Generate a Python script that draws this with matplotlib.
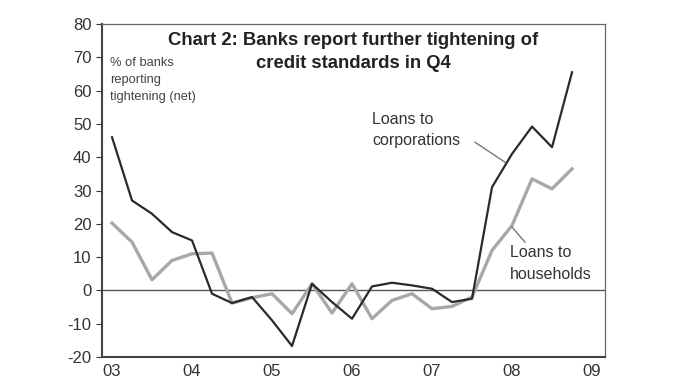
import matplotlib.pyplot as plt

# net % of banks reporting tightening, quarterly 2003Q1 - 2008Q4
quarters = list(range(24))
corporations = [46, 27, 23, 17.5, 15, -1, -3.8, -2, -9, -16.7, 2, -3.5,
                -8.5, 1.2, 2.3, 1.5, 0.5, -3.5, -2.5, 31, 41, 49.2, 43, 65.5]
households = [20.2, 14.5, 3.2, 9, 11, 11.2, -3.8, -2.2, -1, -7, 2, -6.8,
              2, -8.5, -3, -1, -5.5, -4.8, -2, 12, 19.5, 33.5, 30.5, 36.5]
year_ticks = [0, 4, 8, 12, 16, 20, 24]
year_labels = ['03', '04', '05', '06', '07', '08', '09']

plt.rcParams['font.family'] = ['Liberation Sans', 'DejaVu Sans']
plt.rcParams['axes.unicode_minus'] = False

fig = plt.figure(figsize=(6.73, 3.84), dpi=100)
ax = fig.add_axes([0.1516, 0.0703, 0.7474, 0.8672])

ax.axhline(0, color='#555555', lw=1, zorder=1)
ax.plot(quarters, households, color='#a8a8a8', lw=2.4, zorder=2)
ax.plot(quarters, corporations, color='#2a2a2a', lw=1.6, zorder=3)

ax.set_xlim(-0.5, 24.65)
ax.set_ylim(-20, 80)
ax.set_yticks(range(-20, 81, 10))
ax.set_xticks(year_ticks)
ax.set_xticklabels(year_labels)
ax.tick_params(axis='y', length=4, direction='out', labelsize=12, colors='#333333')
ax.tick_params(axis='x', length=0, pad=5, labelsize=12, colors='#333333')

for side in ['top', 'right']:
    ax.spines[side].set_color('#666666')
    ax.spines[side].set_linewidth(0.9)
for side in ['left', 'bottom']:
    ax.spines[side].set_color('#444444')
    ax.spines[side].set_linewidth(1.5)

# title drawn as two separate lines inside the axes
ax.text(12.05, 75, 'Chart 2: Banks report further tightening of',
        ha='center', va='center', fontsize=13.3, fontweight='bold', color='#222222')
ax.text(12.05, 68.2, 'credit standards in Q4',
        ha='center', va='center', fontsize=13.3, fontweight='bold', color='#222222')
ax.text(-0.1, 70, '% of banks\nreporting\ntightening (net)', ha='left', va='top',
        fontsize=9.3, color='#444444', linespacing=1.55)

ax.text(13, 53.6, 'Loans to\ncorporations', ha='left', va='top', fontsize=11.5,
        color='#333333', linespacing=1.5)
ax.plot([18.15, 19.65], [44.5, 38.5], color='#777777', lw=1)

ax.text(19.9, 13.5, 'Loans to\nhouseholds', ha='left', va='top', fontsize=11.5,
        color='#333333', linespacing=1.55)
ax.plot([20.65, 20.0], [14.5, 19], color='#777777', lw=1)

fig.savefig('out.png', dpi=100)
